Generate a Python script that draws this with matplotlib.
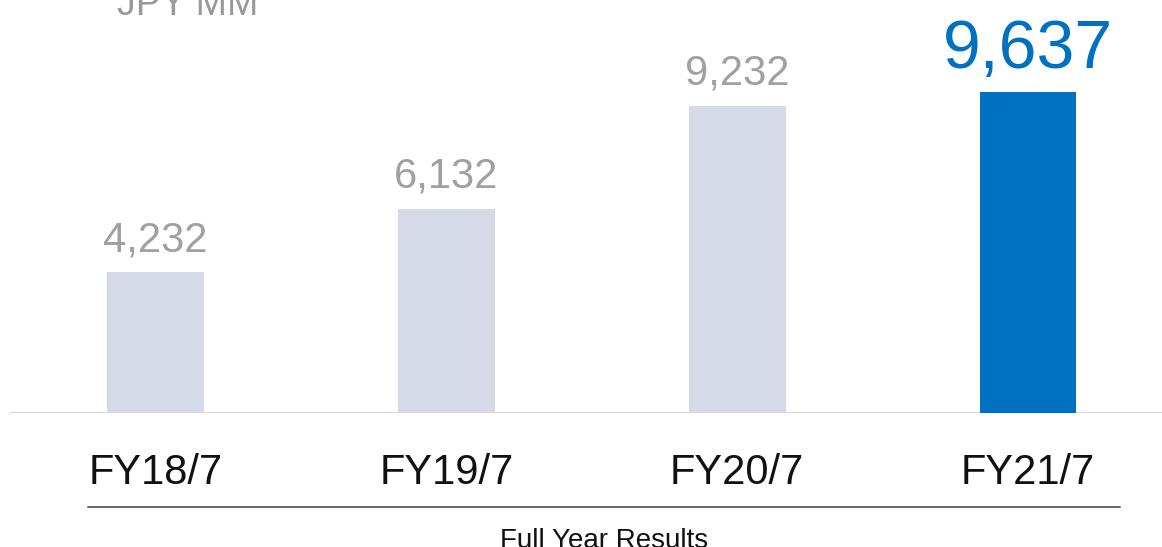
import matplotlib
matplotlib.use('Agg')
import matplotlib.pyplot as plt
from matplotlib.lines import Line2D

categories = ["FY18/7", "FY19/7", "FY20/7", "FY21/7"]
values = [4232, 6132, 9232, 9637]
value_labels = ["4,232", "6,132", "9,232", "9,637"]

plt.rcParams['font.family'] = ['Liberation Sans', 'DejaVu Sans']

W, H = 1162, 547
fig = plt.figure(figsize=(W / 100, H / 100), dpi=100, facecolor="white")
ax = fig.add_axes([10 / W, 134 / H, 1 - 10 / W, 413 / H])
ax.set_xlim(-0.5, 3.461)
ax.set_ylim(0, 12400)
ax.axis('off')

colors = ["#d6dae8"] * 3 + ["#0070c0"]
x = list(range(len(categories)))
ax.bar(x, values, width=0.333, color=colors, zorder=2)

# baseline
ax.axhline(0, color="#d9d9d9", linewidth=1.6, zorder=1)

# value labels
for i, (v, lab) in enumerate(zip(values, value_labels)):
    last = i == len(values) - 1
    ax.annotate(lab, xy=(i, v), xytext=(0, 17 if last else 15), textcoords='offset points',
                ha='center', va='baseline',
                fontsize=49 if last else 30,
                color="#0070c0" if last else "#a0a0a0")

# category labels
for i, c in enumerate(categories):
    ax.annotate(c, xy=(i, 0), xycoords=('data', 'axes fraction'), xytext=(0, -51),
                textcoords='offset points', ha='center', va='baseline',
                fontsize=30, color="#111111")

# separator line and footer
fig.add_artist(Line2D([88 / W, 1120 / W], [40 / H, 40 / H], color="#404040", linewidth=1.1))
fig.text(604 / W, -1 / H, "Full Year Results", ha='center', va='baseline', fontsize=20, color="#111111")

# unit label (partially cut at top)
fig.text(117 / W, (H - 15) / H, "JPY MM", ha='left', va='baseline', fontsize=27, color="#999999")

fig.savefig("out.png", dpi=100, facecolor="white")
